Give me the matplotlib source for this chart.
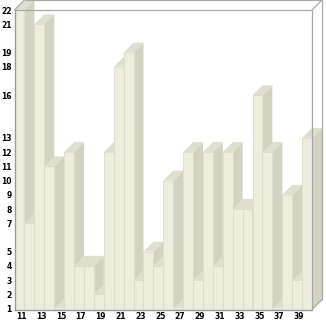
import matplotlib
matplotlib.use("Agg")
import matplotlib.pyplot as plt
from matplotlib.patches import Polygon, Rectangle

categories = list(range(11, 41))
values = [22, 7, 21, 11, 1, 12, 4, 4, 2, 12,
          18, 19, 3, 5, 4, 10, 1, 12, 3, 12,
          4, 12, 8, 8, 16, 12, 1, 9, 3, 13]
x_tick_labels = [str(c) for c in categories[::2]]
y_ticks = sorted(set(values))

FRONT = '#ededde'
SIDE = '#d3d3c3'
TOP = '#dfdfcf'
EDGE = '#dcdccb'
FRAME = '#a9a9a9'

W, H = 326, 321
fig = plt.figure(figsize=(W / 100, H / 100), dpi=100)
left_px, right_px, top_px, bottom_px = 14.5, 312, 10, 309.5
ax = fig.add_axes([left_px / W, (H - bottom_px) / H,
                   (right_px - left_px) / W, (bottom_px - top_px) / H])
ymin, ymax = 0.93, 22
n = len(categories)
ax.set_xlim(0, n)
ax.set_ylim(ymin, ymax)

depth_px = 10
dx = depth_px * n / (right_px - left_px)
dy = depth_px * (ymax - ymin) / (bottom_px - top_px)

for i, v in enumerate(values):
    x0, x1 = i, i + 1
    side = Polygon([(x1, ymin), (x1 + dx, ymin + dy), (x1 + dx, v + dy), (x1, v)],
                   closed=True, facecolor=SIDE, edgecolor='none', clip_on=False, zorder=2)
    top = Polygon([(x0, v), (x0 + dx, v + dy), (x1 + dx, v + dy), (x1, v)],
                  closed=True, facecolor=TOP, edgecolor='none', clip_on=False, zorder=2)
    front = Rectangle((x0, ymin), 1, v - ymin, facecolor=FRONT, edgecolor=EDGE,
                      linewidth=0.6, clip_on=False, zorder=2)
    for p in (side, top, front):
        ax.add_patch(p)

# 3D frame
lw = 0.9
frame_lines = [
    ([0, dx], [ymax, ymax + dy]),
    ([dx, n + dx], [ymax + dy, ymax + dy]),
    ([n, n + dx], [ymax, ymax + dy]),
    ([n + dx, n + dx], [ymin + dy, ymax + dy]),
    ([n, n + dx], [ymin, ymin + dy]),
    ([0, n], [ymax, ymax]),
    ([n, n], [ymin, ymax]),
]
for xs, ys in frame_lines:
    ax.plot(xs, ys, color=FRAME, lw=lw, clip_on=False, zorder=3, solid_capstyle='butt')

for s in ('top', 'right'):
    ax.spines[s].set_visible(False)
for s in ('left', 'bottom'):
    ax.spines[s].set_color('#9a9a9a')
    ax.spines[s].set_linewidth(1.0)
    ax.spines[s].set_zorder(4)

ax.set_yticks(y_ticks)
ax.set_yticklabels([str(t) for t in y_ticks])
ax.set_xticks([i + 0.7 for i in range(0, n, 2)])
ax.set_xticklabels(x_tick_labels)
ax.tick_params(axis='both', length=0, labelsize=5.5, labelcolor='black')
ax.tick_params(axis='y', pad=2)
ax.tick_params(axis='x', pad=2)
for lab in ax.get_xticklabels() + ax.get_yticklabels():
    lab.set_fontweight('bold')
ax.patch.set_visible(False)

fig.savefig('out.png', dpi=100)
